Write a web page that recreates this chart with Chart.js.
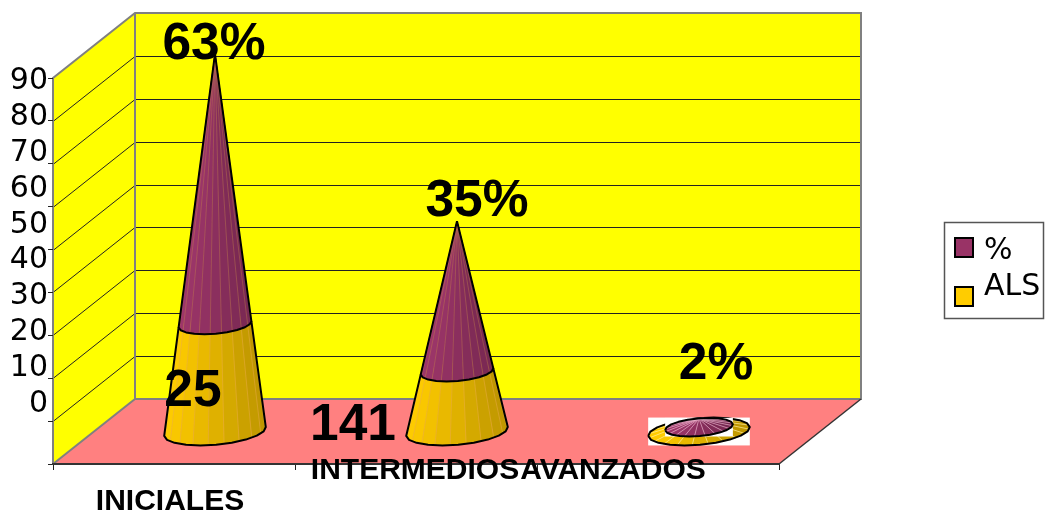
<!DOCTYPE html>
<html>
<head>
<meta charset="utf-8">
<style>html, body { margin: 0; background: #fff; } canvas { display: block; }</style>
<script src="https://cdn.jsdelivr.net/npm/chart.js@4/dist/chart.umd.js"></script>
</head>
<body>
<canvas id="coneChart" width="1047" height="515"></canvas>
<script>
// Data
const categories = ['INICIALES', 'INTERMEDIOS', 'AVANZADOS'];
const alsValues = [25, 14, 1];
const pctValues = [63, 35, 2];
const tickValues = [0, 10, 20, 30, 40, 50, 60, 70, 80, 90];
const pctLabels = ['63%', '35%', '2%'];
const alsLabels = ['25', '141'];
const legendLabels = ['%', 'ALS'];

// Layout of the fake 3D box and the loose labels
const DEPTH_X = 82, DEPTH_Y = 65;
const CONE_R = 51, ELLIPSE = 0.26, TILT = -5 * Math.PI / 180, FACETS = 20;
const pctShift = [[-1, -9], [20, -20], [17, -54]];
const alsShift = [[-22, 35], [-104, 22]];
const catShift = [[-4, 38], [-1, 7], [-45, 7]];

const SANS = '"DejaVu Sans"', ARIAL = '"Liberation Sans"';
const PURPLE = { hi: [158, 54, 106], lo: [120, 40, 82], seam: 'rgba(215,160,70,0.3)', flatSeam: 'rgba(255,205,225,0.55)', base: '#993366' };
const GOLD = { hi: [255, 204, 0], lo: [190, 150, 0], seam: 'rgba(235,170,80,0.45)', flatSeam: 'rgba(255,235,150,0.7)', base: '#FFCC00' };

function drawWalls(chart) {
    const c = chart.ctx, a = chart.chartArea, y = chart.scales.y;
    const l = a.left, r = a.right, t = a.top, b = a.bottom;
    c.save();
    c.fillStyle = '#FFFF00';
    c.beginPath();
    c.moveTo(l, t); c.lineTo(l + DEPTH_X, t - DEPTH_Y); c.lineTo(r + DEPTH_X, t - DEPTH_Y);
    c.lineTo(r + DEPTH_X, b - DEPTH_Y); c.lineTo(l + DEPTH_X, b - DEPTH_Y); c.lineTo(l, b);
    c.closePath(); c.fill();
    c.fillStyle = '#FF8080';
    c.beginPath();
    c.moveTo(l, b); c.lineTo(l + DEPTH_X, b - DEPTH_Y); c.lineTo(r + DEPTH_X, b - DEPTH_Y); c.lineTo(r, b);
    c.closePath(); c.fill();

    // grid lines run along the side wall and across the back wall
    c.strokeStyle = '#222'; c.lineWidth = 1;
    tickValues.slice(1, -1).forEach(v => {
        const py = Math.round(y.getPixelForValue(v)) + 0.5;
        c.beginPath();
        c.moveTo(l, py); c.lineTo(l + DEPTH_X, py - DEPTH_Y); c.lineTo(r + DEPTH_X, py - DEPTH_Y);
        c.stroke();
    });

    c.strokeStyle = '#808080'; c.lineWidth = 2;
    c.beginPath();
    c.moveTo(l, b); c.lineTo(l, t); c.lineTo(l + DEPTH_X, t - DEPTH_Y); c.lineTo(r + DEPTH_X, t - DEPTH_Y);
    c.lineTo(r + DEPTH_X, b - DEPTH_Y); c.lineTo(l + DEPTH_X, b - DEPTH_Y); c.lineTo(l, b);
    c.moveTo(l + DEPTH_X, t - DEPTH_Y); c.lineTo(l + DEPTH_X, b - DEPTH_Y);
    c.stroke();
    c.strokeStyle = '#333'; c.lineWidth = 1.5;
    c.beginPath(); c.moveTo(r, b); c.lineTo(r + DEPTH_X, b - DEPTH_Y); c.stroke();
    c.restore();
}

function rimPoint(cx, cy, rad, th) {
    const ex = rad * Math.cos(th), ey = rad * ELLIPSE * Math.sin(th);
    return [cx + ex * Math.cos(TILT) - ey * Math.sin(TILT), cy + ex * Math.sin(TILT) + ey * Math.cos(TILT)];
}

function facetColor(pal, th) {
    const u = (Math.cos(th) + 1) / 2;
    const m = pal.hi.map((h, i) => Math.round(h + (pal.lo[i] - h) * u));
    return `rgb(${m[0]},${m[1]},${m[2]})`;
}

function rimPath(c, cx, cy, rad, from, to) {
    for (let i = 0; i <= FACETS / 2; i++) {
        const p = rimPoint(cx, cy, rad, from + (to - from) * i / (FACETS / 2));
        c.lineTo(p[0], p[1]);
    }
}

// One stacked section of a cone, base ellipse at yBot and upper ellipse at yTop
function drawSection(c, cx, yBot, yTop, rBot, rTop, pal, flat) {
    const steps = [];
    for (let i = 0; i < FACETS; i++) steps.push(i * 2 * Math.PI / FACETS);
    steps.sort((p, q) => Math.sin(p) - Math.sin(q));
    const half = Math.PI / FACETS;

    if (flat) {
        // the source picture has white boxes behind the flattened cone
        const hw = Math.hypot(rBot * Math.cos(TILT), rBot * ELLIPSE * Math.sin(TILT));
        const hh = Math.hypot(rBot * Math.sin(TILT), rBot * ELLIPSE * Math.cos(TILT));
        c.fillStyle = '#fff';
        c.fillRect(cx - hw, yBot - hh, hw * 2, hh * 2);
    }
    steps.forEach(th => {
        const a = rimPoint(cx, yBot, rBot, th - half), b = rimPoint(cx, yBot, rBot, th + half);
        const d = rimPoint(cx, yTop, rTop, th - half), e = rimPoint(cx, yTop, rTop, th + half);
        c.fillStyle = c.strokeStyle = facetColor(pal, th);
        c.lineWidth = 0.6;
        c.beginPath();
        c.moveTo(a[0], a[1]); c.lineTo(b[0], b[1]); c.lineTo(e[0], e[1]); c.lineTo(d[0], d[1]);
        c.closePath(); c.fill(); c.stroke();
    });
    // thin seams between the facets
    c.strokeStyle = flat ? pal.flatSeam : pal.seam; c.lineWidth = 1;
    steps.forEach(th => {
        if (!flat && Math.sin(th - half) < 0) return;
        const a = rimPoint(cx, yBot, rBot, th - half), d = rimPoint(cx, yTop, rTop, th - half);
        c.beginPath(); c.moveTo(a[0], a[1]); c.lineTo(d[0], d[1]); c.stroke();
    });
    c.strokeStyle = '#000'; c.lineWidth = 2; c.lineJoin = 'round';
    c.beginPath();
    if (flat) {
        const p = rimPoint(cx, yBot, rBot, Math.PI);
        c.moveTo(p[0], p[1]);
        rimPath(c, cx, yBot, rBot, Math.PI, 0);
        rimPath(c, cx, yBot, rBot, 0, -Math.PI);
    } else {
        const p = rimPoint(cx, yTop, rTop, Math.PI);
        c.moveTo(p[0], p[1]);
        rimPath(c, cx, yBot, rBot, Math.PI, 0);
        const q = rimPoint(cx, yTop, rTop, 0);
        c.lineTo(q[0], q[1]);
    }
    c.stroke();
}

const conePlugin = {
    id: 'cones',
    beforeDraw: drawWalls,
    // bars are replaced by cones, heights come from the same stacked scales
    beforeDatasetsDraw(chart) {
        const c = chart.ctx, x = chart.scales.x, y = chart.scales.y;
        c.save();
        categories.forEach((_, i) => {
            const cx = x.getPixelForValue(i) + DEPTH_X / 2;
            const total = alsValues[i] + pctValues[i];
            const y0 = y.getPixelForValue(0) - DEPTH_Y / 2;
            const y1 = y.getPixelForValue(alsValues[i]) - DEPTH_Y / 2;
            const y2 = y.getPixelForValue(total) - DEPTH_Y / 2;
            const rMid = CONE_R * (1 - alsValues[i] / total);
            const flat = (y0 - y2) < CONE_R * ELLIPSE * 2;
            drawSection(c, cx, y0, y1, CONE_R, rMid, GOLD, flat);
            drawSection(c, cx, y1, y2, rMid, 0, PURPLE, flat);
        });
        c.restore();
        return false;
    },
    afterDraw(chart) {
        const c = chart.ctx, x = chart.scales.x, y = chart.scales.y;
        c.save();
        c.fillStyle = '#000';
        c.textAlign = 'center';
        c.textBaseline = 'middle';

        c.font = `bold 51.5px ${ARIAL}`;
        pctLabels.forEach((t, i) => {
            const total = alsValues[i] + pctValues[i];
            c.fillText(t, x.getPixelForValue(i) + DEPTH_X / 2 + pctShift[i][0],
                y.getPixelForValue(total) - DEPTH_Y / 2 + pctShift[i][1]);
        });
        alsLabels.forEach((t, i) => {
            c.fillText(t, x.getPixelForValue(i) + DEPTH_X / 2 + alsShift[i][0],
                y.getPixelForValue(alsValues[i]) + alsShift[i][1]);
        });

        c.font = `bold 30px ${ARIAL}`;
        categories.forEach((t, i) => {
            c.fillText(t, x.getPixelForValue(i) + catShift[i][0], y.bottom + catShift[i][1]);
        });

        // legend box
        c.strokeStyle = '#555'; c.lineWidth = 1.5;
        c.strokeRect(944.5, 222.5, 99, 96);
        [[238, PURPLE.base], [287, GOLD.base]].forEach(s => {
            c.fillStyle = s[1];
            c.fillRect(955, s[0], 18, 19);
            c.strokeStyle = '#000'; c.lineWidth = 2;
            c.strokeRect(955, s[0], 18, 19);
        });
        c.fillStyle = '#000'; c.textAlign = 'left';
        c.font = `30px ${SANS}`;
        c.fillText(legendLabels[0], 984, 251);
        c.fillText(legendLabels[1], 984, 287);
        c.restore();
    }
};

new Chart(document.getElementById('coneChart').getContext('2d'), {
    type: 'bar',
    data: {
        labels: categories,
        datasets: [
            { label: 'ALS', data: alsValues, backgroundColor: GOLD.base },
            { label: '%', data: pctValues, backgroundColor: PURPLE.base }
        ]
    },
    options: {
        responsive: false,
        animation: false,
        layout: { padding: { top: 78, right: 268, left: 0, bottom: 0 } },
        plugins: { legend: { display: false }, tooltip: { enabled: false } },
        scales: {
            x: {
                stacked: true,
                afterFit: s => { s.height = 51; },
                ticks: { display: false },
                grid: { drawOnChartArea: false, color: '#222', tickLength: 6 },
                border: { color: '#333', width: 2 }
            },
            y: {
                stacked: true, min: 0, max: 90,
                afterFit: s => { s.width = 0; },
                afterBuildTicks: s => { s.ticks = tickValues.map(v => ({ value: v })); },
                ticks: { display: false },
                grid: { drawOnChartArea: false, color: '#222', tickLength: 5 },
                border: { display: false }
            },
            // the tick labels sit tighter than the ticks, so they live on their own axis
            yLabels: {
                position: 'left', weight: 1, min: -16.8, max: 91,
                afterFit: s => { s.width = 53; },
                afterBuildTicks: s => { s.ticks = tickValues.map(v => ({ value: v })); },
                ticks: { autoSkip: false, padding: 5, color: '#000', font: { family: SANS, size: 30 } },
                grid: { display: false, drawTicks: false },
                border: { display: false }
            }
        }
    },
    plugins: [conePlugin]
});
</script>
</body>
</html>
